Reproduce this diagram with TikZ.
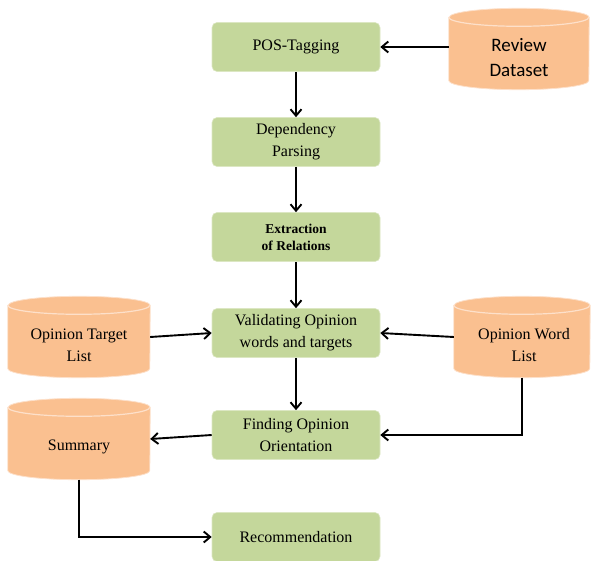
\documentclass[tikz,border=0pt]{standalone}
\usepackage{fontspec}
\setmainfont{Liberation Serif}
\newfontfamily\calfont{Carlito}
\usetikzlibrary{arrows.meta,calc}
\definecolor{boxgreen}{RGB}{196,215,155}
\definecolor{dborange}{RGB}{250,192,144}
\definecolor{rimorange}{RGB}{253,224,202}
\tikzset{
  procbox/.style={fill=boxgreen, draw=boxgreen!60!white, line width=0.6pt, rounded corners=5pt,
    minimum width=168pt, minimum height=49pt, inner sep=0pt, align=center,
    font=\fontsize{16}{22}\selectfont},
  dbanchor/.style={rectangle, inner sep=0pt, minimum height=81pt},
  dbbody/.style={fill=dborange, draw=rimorange, line width=0.8pt},
  dbrim/.style={draw=rimorange, line width=1.2pt},
  dbtext/.style={align=center, font=\fontsize{16}{22}\selectfont},
  arr/.style={-{Straight Barb[length=6.5pt,width=11pt,line width=1.9pt]}, line width=1.9pt, black}
}
% \mycyl{name}{cx}{cy}{half width}
\newcommand\mycyl[4]{%
  \node[dbanchor, minimum width=2*#4pt] (#1) at (#2,#3) {};
  \path[dbbody] ($(#1.north west)+(0,-9)$) -- ($(#1.south west)+(0,9)$)
     arc[start angle=180, end angle=360, x radius=#4, y radius=9]
     -- ($(#1.north east)+(0,-9)$)
     arc[start angle=0, end angle=180, x radius=#4, y radius=9] -- cycle;
  \draw[dbrim] ($(#1.north west)+(0,-9)$)
     arc[start angle=180, end angle=360, x radius=#4, y radius=9];
}
\begin{document}
\begin{tikzpicture}[x=1pt,y=1pt]
\useasboundingbox (0,0) rectangle (593,560);
% process boxes (y = 560 - pixel row)
\node[procbox] (pos) at (296,513) {\raisebox{-2pt}{POS-Tagging}};
\node[procbox] (dep) at (296,418) {Dependency\\Parsing};
\node[procbox, font=\bfseries\fontsize{13.5}{17}\selectfont] (ext) at (296,323) {Extraction\\of Relations};
\node[procbox] (val) at (296,227) {Validating Opinion\\words and targets};
\node[procbox] (fin) at (296,125) {Finding Opinion\\Orientation};
\node[procbox] (rec) at (296,23) {Recommendation};
% databases
\mycyl{rev}{519}{511}{70}
\node[dbtext, font=\calfont\fontsize{19}{25}\selectfont] (revt) at (519,502) {Review\\Dataset};
\mycyl{otl}{79}{223}{71}
\node[dbtext] (otlt) at (79,215) {Opinion Target\\List};
\mycyl{owl}{522}{223}{68}
\node[dbtext] (owlt) at (524,215) {Opinion Word\\List};
\mycyl{sum}{79}{121}{71}
\node[dbtext] (sumt) at (79,113) {Summary};
% connectors
\draw[arr] (rev.west |- pos.east) -- (pos.east);
\draw[arr] (pos) -- (dep);
\draw[arr] (dep) -- (ext);
\draw[arr] (ext) -- (val);
\draw[arr] (val) -- (fin);
\draw[arr] (otl.east) -- (val.west);
\draw[arr] (owl.west) -- (val.east);
\draw[arr] (owl.south) |- (fin.east);
\draw[arr] (fin.west) -- (sum.east);
\draw[arr] (sum.south) |- (rec.west);
\end{tikzpicture}
\end{document}
